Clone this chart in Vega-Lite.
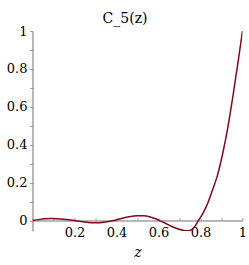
{
  "$schema": "https://vega.github.io/schema/vega-lite/v6.json",
  "width": 210,
  "height": 200,
  "autosize": "none",
  "padding": {"left": 32.5, "top": 31, "right": 6.5, "bottom": 34},
  "background": "white",
  "title": {"text": "C_5(z)", "anchor": "middle", "dx": -12.5, "baseline": "bottom", "offset": -15, "frame": "group"},
  "config": {
    "font": "DejaVu Serif",
    "view": {"stroke": null},
    "title": {"font": "DejaVu Serif", "fontSize": 14, "fontWeight": "normal", "color": "#000000"},
    "axis": {"labelFont": "DejaVu Serif", "titleFont": "DejaVu Serif"}
  },
  "data": {"values": [
    {"z": 0, "c": 0},
    {"z": 0.03, "c": 0.005},
    {"z": 0.06, "c": 0.009},
    {"z": 0.09, "c": 0.011},
    {"z": 0.12, "c": 0.010},
    {"z": 0.15, "c": 0.007},
    {"z": 0.18, "c": 0.003},
    {"z": 0.2, "c": 0.0},
    {"z": 0.23, "c": -0.005},
    {"z": 0.26, "c": -0.009},
    {"z": 0.29, "c": -0.0115},
    {"z": 0.32, "c": -0.011},
    {"z": 0.35, "c": -0.007},
    {"z": 0.385, "c": 0.0},
    {"z": 0.42, "c": 0.010},
    {"z": 0.46, "c": 0.020},
    {"z": 0.5, "c": 0.025},
    {"z": 0.53, "c": 0.025},
    {"z": 0.56, "c": 0.019},
    {"z": 0.59, "c": 0.008},
    {"z": 0.605, "c": 0.0},
    {"z": 0.63, "c": -0.013},
    {"z": 0.66, "c": -0.030},
    {"z": 0.69, "c": -0.043},
    {"z": 0.72, "c": -0.052},
    {"z": 0.74, "c": -0.054},
    {"z": 0.76, "c": -0.046},
    {"z": 0.775, "c": -0.028},
    {"z": 0.79, "c": 0.0},
    {"z": 0.81, "c": 0.035},
    {"z": 0.83, "c": 0.08},
    {"z": 0.855, "c": 0.155},
    {"z": 0.88, "c": 0.236},
    {"z": 0.905, "c": 0.35},
    {"z": 0.93, "c": 0.49},
    {"z": 0.955, "c": 0.66},
    {"z": 0.98, "c": 0.845},
    {"z": 1.0, "c": 1.0}
  ]},
  "mark": {"type": "line", "color": "#7f0a1c", "strokeWidth": 1.5, "interpolate": "monotone", "clip": true},
  "encoding": {
    "x": {
      "field": "z", "type": "quantitative",
      "scale": {"domain": [0, 1], "nice": false, "zero": false},
      "axis": {
        "title": "z", "titleFontStyle": "italic", "titleFontWeight": "normal", "titleFontSize": 14, "titleColor": "#000000", "titlePadding": 6,
        "values": [0.1, 0.2, 0.3, 0.4, 0.5, 0.6, 0.7, 0.8, 0.9, 1.0],
        "format": ".1~f",
        "labelExpr": "indexof(['0.2','0.4','0.6','0.8','1'], datum.label) >= 0 ? datum.label : ''",
        "labelFontSize": 13, "labelColor": "#000000",
        "labelFlush": false, "labelOverlap": false, "labelBound": false,
        "offset": -10.4, "tickSize": -3, "labelPadding": 9,
        "domainColor": "#a0a0a0", "domainWidth": 1.5, "tickColor": "#a0a0a0", "tickWidth": 1, "grid": false
      }
    },
    "y": {
      "field": "c", "type": "quantitative",
      "scale": {"domain": [-0.055, 1], "nice": false, "zero": false},
      "axis": {
        "title": null,
        "values": [0, 0.1, 0.2, 0.3, 0.4, 0.5, 0.6, 0.7, 0.8, 0.9, 1.0],
        "format": ".1~f",
        "labelExpr": "indexof(['0','0.2','0.4','0.6','0.8','1'], datum.label) >= 0 ? datum.label : ''",
        "labelFontSize": 13, "labelColor": "#000000",
        "labelFlush": false, "labelOverlap": false, "labelBound": false, "labelBaseline": "middle",
        "tickSize": 3, "labelPadding": 2.5,
        "domainColor": "#a0a0a0", "domainWidth": 1.5, "tickColor": "#a0a0a0", "tickWidth": 1, "grid": false
      }
    }
  }
}
